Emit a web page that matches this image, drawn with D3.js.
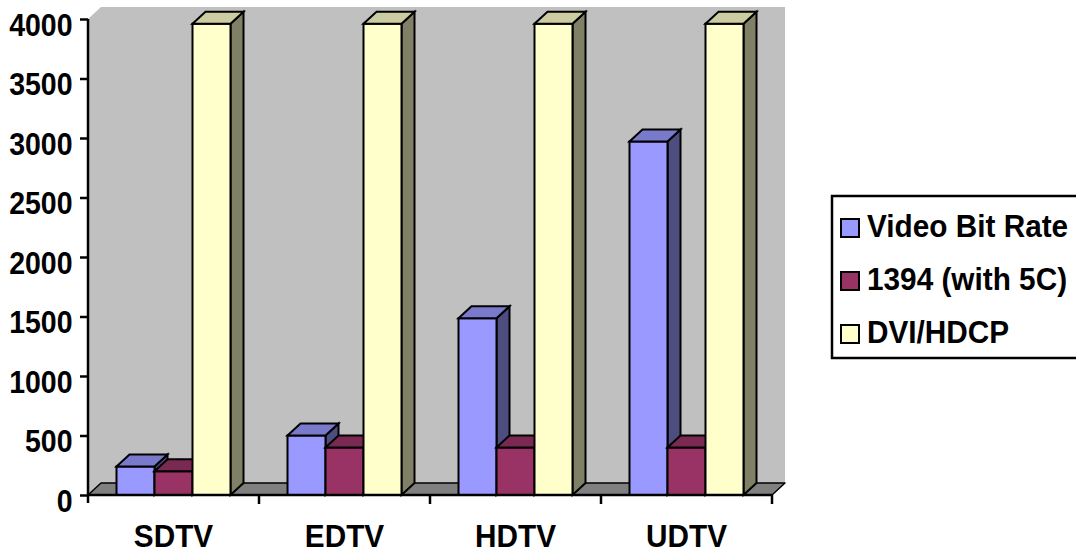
<!DOCTYPE html>
<html>
<head>
<meta charset="utf-8">
<script src="https://cdn.jsdelivr.net/npm/d3@7"></script>
<style>
  html, body { margin: 0; padding: 0; background: #ffffff; }
  svg { display: block; }
  text { font-family: "Liberation Sans", Arial, sans-serif; font-weight: bold; fill: #000; }
</style>
</head>
<body>
<svg id="chart" width="1076" height="554"></svg>
<script>
// Link bandwidth per display format (Mbit/s)
const categories = ["SDTV", "EDTV", "HDTV", "UDTV"];
const seriesNames = ["Video Bit Rate", "1394 (with 5C)", "DVI/HDCP"];
const videoBitRate = [240, 500, 1485, 2970];
const ieee1394 = [200, 400, 400, 400];
const dviHdcp = [3960, 3960, 3960, 3960];
const yTickValues = [0, 500, 1000, 1500, 2000, 2500, 3000, 3500, 4000];

const seriesValues = [videoBitRate, ieee1394, dviHdcp];
const faceColors = [
  { front: "#9999FF", top: "#7A7ACC", side: "#4D4D80" },
  { front: "#993366", top: "#7A2952", side: "#4D1A33" },
  { front: "#FFFFCC", top: "#CCCCA3", side: "#808066" }
];

const svg = d3.select("#chart");

// plot frame (front plane) and 3D depth offset
const plotLeft = 88, plotRight = 772, plotTop = 19, plotBottom = 495;
const dx = 13, dy = -12;
const fontSize = 32;

const y = d3.scaleLinear().domain([0, 4000]).range([plotBottom, plotTop]);
const x = d3.scaleBand().domain(categories).range([plotLeft, plotRight]);
const xs = d3.scaleBand().domain(seriesNames).range([0, x.bandwidth()])
  .paddingInner(0).paddingOuter(0.75);

const poly = pts => pts.map(p => p.join(",")).join(" ");

// walls
svg.append("polygon")
  .attr("points", poly([[plotLeft, y(4000)], [plotLeft + dx, y(4000) + dy], [plotLeft + dx, plotBottom + dy], [plotLeft, plotBottom]]))
  .attr("fill", "#C0C0C0");
svg.append("polygon")
  .attr("points", poly([[plotLeft + dx, y(4000) + dy], [plotRight + dx, y(4000) + dy], [plotRight + dx, plotBottom + dy], [plotLeft + dx, plotBottom + dy]]))
  .attr("fill", "#C0C0C0");

// floor
svg.append("polygon")
  .attr("points", poly([[plotLeft, plotBottom], [plotLeft + dx, plotBottom + dy], [plotRight + dx, plotBottom + dy], [plotRight, plotBottom]]))
  .attr("fill", "#808080").attr("stroke", "#000").attr("stroke-width", 1.5)
  .attr("stroke-linejoin", "round");

// bars, painted left to right so neighbours overlap correctly
const bars = [];
categories.forEach((c, ci) => {
  seriesNames.forEach((s, si) => {
    bars.push({ c, s, si, v: seriesValues[si][ci] });
  });
});

const barG = svg.append("g");
bars.forEach(d => {
  const x0 = x(d.c) + xs(d.s), x1 = x0 + xs.bandwidth();
  const yt = y(d.v), yb = y(0);
  const col = faceColors[d.si];
  const g = barG.append("g")
    .attr("stroke", "#000").attr("stroke-width", 2).attr("stroke-linejoin", "miter");
  g.append("polygon").attr("fill", col.side)
    .attr("points", poly([[x1, yt], [x1 + dx, yt + dy], [x1 + dx, yb + dy], [x1, yb]]));
  g.append("polygon").attr("fill", col.front)
    .attr("points", poly([[x0, yt], [x1, yt], [x1, yb], [x0, yb]]));
  g.append("polygon").attr("fill", col.top)
    .attr("points", poly([[x0, yt], [x0 + dx, yt + dy], [x1 + dx, yt + dy], [x1, yt]]));
});

// value axis
const yAxis = d3.axisLeft(y).tickValues(yTickValues).tickSize(8).tickPadding(8).tickFormat(d3.format("d"));
const yg = svg.append("g").attr("transform", `translate(${plotLeft},0)`).call(yAxis);
yg.select(".domain").attr("stroke", "#000").attr("stroke-width", 2.5)
  .attr("d", `M0,${plotTop}V${plotBottom + 8}`);
yg.selectAll(".tick line").attr("stroke", "#000").attr("stroke-width", 2.5);
yg.selectAll(".tick text")
  .attr("font-size", fontSize).attr("font-family", "Liberation Sans, Arial, sans-serif")
  .attr("font-weight", "bold").attr("fill", "#000")
  .attr("x", 0).attr("dy", null)
  .attr("transform", "translate(-15.5,16) scale(0.89,1)");

// category axis
const xg = svg.append("g").attr("transform", `translate(0,${plotBottom})`);
xg.append("line").attr("x1", plotLeft).attr("x2", plotRight).attr("stroke", "#000").attr("stroke-width", 2.5);
xg.selectAll("line.cat-tick")
  .data(categories.map(c => x(c) + x.bandwidth()))
  .join("line").attr("class", "cat-tick")
  .attr("x1", d => d).attr("x2", d => d).attr("y1", 0).attr("y2", 9)
  .attr("stroke", "#000").attr("stroke-width", 2.5);
xg.selectAll("text")
  .data(categories).join("text")
  .attr("transform", d => `translate(${x(d) + x.bandwidth() / 2},52) scale(0.93,1)`)
  .attr("text-anchor", "middle")
  .attr("font-size", fontSize)
  .text(d => d);

// legend
const lg = svg.append("g");
lg.append("rect").attr("x", 832).attr("y", 196).attr("width", 260).attr("height", 162)
  .attr("fill", "#fff").attr("stroke", "#000").attr("stroke-width", 2.5);
const legendRows = lg.selectAll("g.row").data(seriesNames).join("g")
  .attr("class", "row")
  .attr("transform", (d, i) => `translate(841,${237 + i * 53})`);
legendRows.append("rect").attr("x", 0).attr("y", -18).attr("width", 18).attr("height", 18)
  .attr("fill", (d, i) => faceColors[i].front).attr("stroke", "#000").attr("stroke-width", 2);
legendRows.append("text")
  .attr("transform", "translate(26,0) scale(0.93,1)")
  .attr("font-size", fontSize).text(d => d);
</script>
</body>
</html>
